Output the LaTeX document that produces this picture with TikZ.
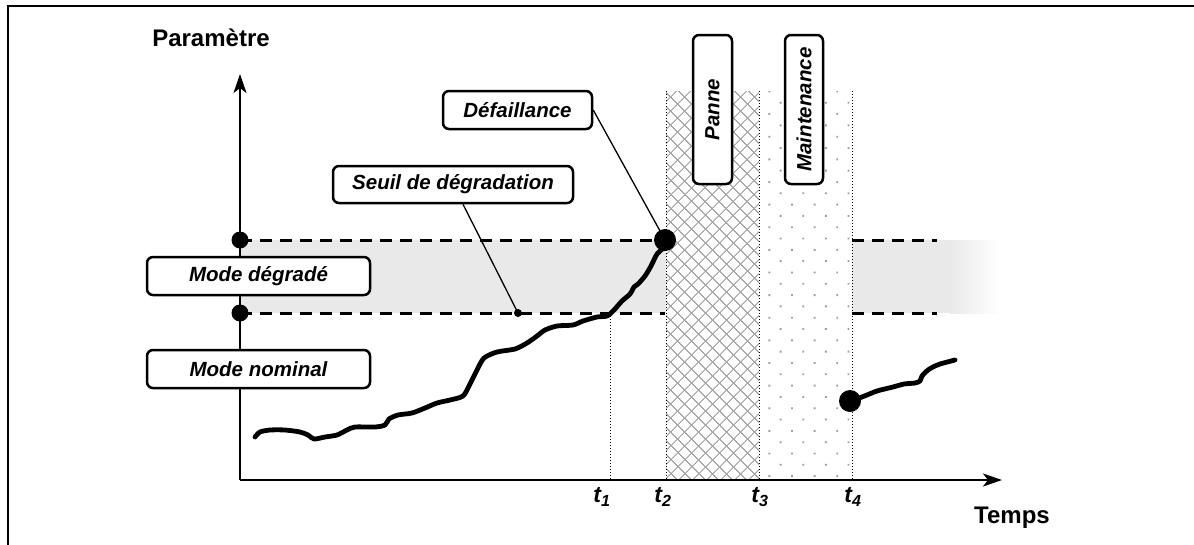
\documentclass[tikz,border=0pt]{standalone}
\usepackage{fontspec}
\setmainfont{Liberation Sans}
\usetikzlibrary{arrows.meta,patterns.meta,shadings}
\definecolor{bandgray}{HTML}{E9E9E9}
\definecolor{patgray}{HTML}{A8A8A8}
\definecolor{dotgray}{HTML}{A0A0A0}
\tikzset{
  lbl/.style={draw,line width=2.5pt,rounded corners=6pt,fill=white,inner sep=0pt,
    font=\fontsize{20.5}{24}\selectfont\bfseries\itshape},
  title/.style={font=\fontsize{24}{28}\selectfont\bfseries},
  tlab/.style={font=\fontsize{23}{26}\selectfont\bfseries\itshape},
  thr/.style={dashed,dash pattern=on 12pt off 8pt,line width=3pt},
  vdot/.style={dotted,line width=1pt},
  axis/.style={line width=2.5pt,-{Stealth[length=19pt,width=13pt,inset=5pt]}},
  curve/.style={line width=4.8pt,line cap=round,line join=round},
  sdotst/.style={circle,fill=black,inner sep=0pt,minimum size=#1},
  pointer/.style={line width=1.3pt}
}
\begin{document}
\begin{tikzpicture}[x=1pt,y=-1pt]
\useasboundingbox (0,0) rectangle (1194,544);
% frame
\draw[line width=2.8pt] (8,546) -- (8,6) -- (1196,6);
% band
\fill[bandgray] (240,240) rectangle (950,313);
\shade[left color=bandgray,right color=white] (949.5,240) rectangle (1000,313);
% thresholds
\draw[thr] (240,240) -- (665,240);
\draw[thr] (240,313) -- (665,313);
\draw[thr] (852,240) -- (937,240);
\draw[thr] (852,313) -- (937,313);
% regions
\fill[white] (666,91) rectangle (852,480);
\fill[pattern={Hatch[angle=45,distance=10.5pt,line width=1.1pt]},pattern color=patgray] (666,91) rectangle (759,480);
\fill[pattern={Dots[angle=45,distance=16pt,radius=1.3pt]},pattern color=dotgray] (759,91) rectangle (852,480);
% time markers
\coordinate (t1top) at (610,313);
\coordinate (t1bot) at (610,480);
\coordinate (t2top) at (666,91);
\coordinate (t2bot) at (666,480);
\coordinate (t3top) at (759,91);
\coordinate (t3bot) at (759,480);
\coordinate (t4top) at (852,91);
\coordinate (t4bot) at (852,480);
\draw[vdot] (t1top) -- (t1bot);
\draw[vdot] (t2top) -- (t2bot);
\draw[vdot] (t3top) -- (t3bot);
\draw[vdot] (t4top) -- (t4bot);
% axes
\coordinate (O) at (240,480);
\coordinate (ytip) at (240,74);
\coordinate (xtip) at (1002,480);
\draw[axis] (O) -- (ytip);
\draw[axis] (O) -- (xtip);
% curves
\draw[curve] plot[smooth,tension=0.45] coordinates {(255,437) (260,432) (270,430) (285,430) (300,432) (308,435) (314,439) (325,437) (337,435) (347,430) (355,427) (375,427) (385,425) (389,419) (398,415) (412,413) (425,408) (437,403) (450,400) (463,396) (470,384) (477,370) (484,358) (497,352) (515,349) (527,343) (537,336) (545,330) (557,326) (573,325) (583,321) (597,317) (607,316) (614,310) (622,301) (630,294) (634,287) (638,284) (645,276) (651,266) (657,254) (663,248) (665,241)};
\draw[curve] plot[smooth,tension=0.45] coordinates {(850,401) (862,397) (877,391) (893,387) (904,384) (915,383) (920,381) (922,376) (928,370) (933,367) (940,364) (955,360)};
% dots
\node[sdotst=17pt] (yd1) at (240,240) {};
\node[sdotst=17pt] (yd2) at (240,313) {};
\node[sdotst=22pt] (fdot) at (665,240) {};
\node[sdotst=22pt] (rdot) at (850,401) {};
\node[sdotst=8pt] (sdot) at (518,313) {};
% labels
\node[title] (par) at (211,38) {Paramètre};
\node[title] (temps) at (1012,518) {Temps};
\node[tlab] (lt1) at (602,497) {t\textsubscript{1}};
\node[tlab] (lt2) at (663,497) {t\textsubscript{2}};
\node[tlab] (lt3) at (760,497) {t\textsubscript{3}};
\node[tlab] (lt4) at (853,497) {t\textsubscript{4}};
% boxes
\node[lbl,minimum width=223pt,minimum height=38pt] (degr) at (258.5,276) {Mode dégradé};
\node[lbl,minimum width=223pt,minimum height=38pt] (nomi) at (258.5,369) {Mode nominal};
\node[lbl,minimum width=149pt,minimum height=38pt] (defa) at (517.5,110) {Défaillance};
\node[lbl,minimum width=240pt,minimum height=37pt] (seuil) at (453,184.5) {Seuil de dégradation};
\node[lbl,rotate=90,minimum width=149pt,minimum height=39pt] (panne) at (712.5,109.5) {Panne};
\node[lbl,rotate=90,minimum width=149pt,minimum height=38pt] (maint) at (804,109.5) {Maintenance};
% connectors
\draw[pointer] (defa.east) -- (fdot.center);
\draw[pointer] (seuil) -- (sdot.center);
\end{tikzpicture}
\end{document}
